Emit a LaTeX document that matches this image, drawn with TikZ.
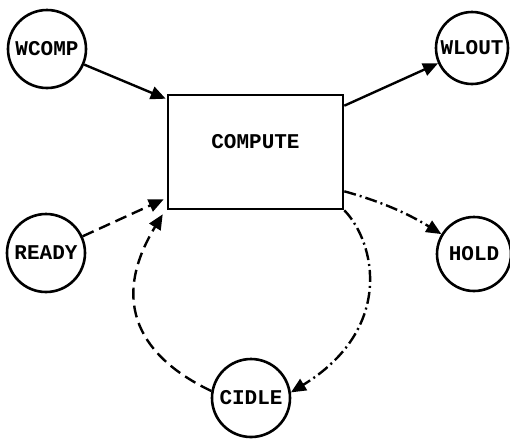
\documentclass[tikz,border=0pt]{standalone}
\usepackage{fontspec}
\setmonofont{Liberation Mono}
\usetikzlibrary{arrows.meta}
\begin{document}
\begin{tikzpicture}[x=1pt,y=-1pt,
  lbl/.style={font=\fontsize{21}{23}\selectfont\ttfamily\bfseries},
  state/.style={lbl,circle,draw,line width=2.6pt,inner sep=0pt},
  procbox/.style={lbl,rectangle,draw,line width=2.6pt,minimum width=175pt,minimum height=114pt,text depth=22pt},
  flow/.style={line width=2.4pt,-{Triangle[length=15pt,width=13pt]}},
  dashflow/.style={flow,dash pattern=on 12pt off 6pt},
  dotflow/.style={flow,dash pattern=on 12pt off 4pt on 2pt off 4pt}]
\useasboundingbox (0,0) rectangle (510,440);
\node[state,minimum size=78pt] (wcomp) at (47,49) {WCOMP};
\node[state,minimum size=72pt] (wlout) at (472,48) {WLOUT};
\node[state,minimum size=78pt] (ready) at (46,253) {READY};
\node[state,minimum size=74pt] (hold) at (474,254) {HOLD};
\node[state,minimum size=78pt] (cidle) at (251,398) {CIDLE};
\node[procbox] (compute) at (255.5,152) {COMPUTE};
\coordinate (inA) at ([xshift=-1pt,yshift=-5pt]compute.north west);
\coordinate (inB) at ([xshift=-3pt,yshift=11pt]compute.south west);
\coordinate (inC) at ([xshift=-4pt,yshift=-4pt]compute.south west);
\coordinate (outA) at ([yshift=-12pt]compute.north east);
\coordinate (outB) at ([yshift=19pt]compute.south east);
\coordinate (outC) at (compute.south east);
\draw[flow] (wcomp) -- (inA);
\draw[dashflow] (ready) -- (inB);
\draw[dashflow] (cidle.170) .. controls (142,358) and (108,304) .. (inC);
\draw[flow] (outA) -- (wlout);
\draw[dotflow] (outB) .. controls (390,204) and (415,218) .. (hold);
\draw[dotflow] (outC) .. controls (376,243) and (394,329) .. (cidle.8);
\end{tikzpicture}
\end{document}
